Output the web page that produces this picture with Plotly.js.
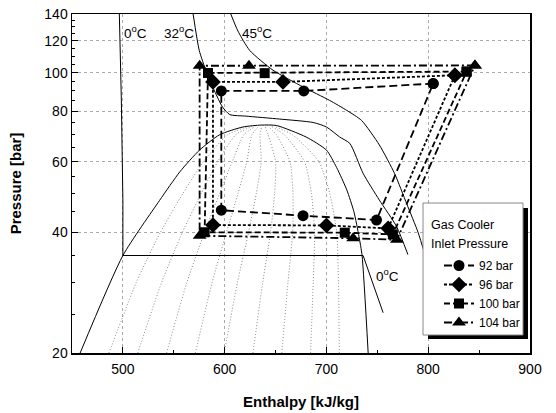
<!DOCTYPE html>
<html><head><meta charset="utf-8">
<script src="https://cdn.plot.ly/plotly-3.0.1.min.js"></script>
<style>html,body{margin:0;padding:0;background:#fff}#chart{width:556px;height:413px}</style>
</head><body><div id="chart"></div>
<script>
// ---- Saturation dome (enthalpy kJ/kg, pressure bar) ----
const domeH = [458, 500, 536, 556, 575, 595, 618, 636, 651, 680, 700, 710, 720, 727, 732, 735, 741];
const domeP = [20, 35, 48, 56.6, 64, 70, 73.2, 74, 73.8, 69.1, 64.1, 58, 51, 45, 39, 35, 20];

// ---- Constant-quality lines (x = 0.1 ... 0.9) ----
const qualP = [20, 30, 40, 50, 60, 70, 73.5];
const qual01 = [486.3, 513.2, 536.9, 559.0, 579.2, 603.0, 624.1];
const qual02 = [514.6, 538.1, 558.5, 577.0, 593.3, 610.9, 627.2];
const qual03 = [542.9, 562.9, 580.2, 595.1, 607.5, 618.9, 630.3];
const qual04 = [571.2, 587.7, 601.8, 613.1, 621.7, 626.8, 633.4];
const qual05 = [599.5, 612.6, 623.5, 631.1, 635.9, 634.8, 636.5];
const qual06 = [627.8, 637.4, 645.1, 649.1, 650.0, 642.7, 639.6];
const qual07 = [656.1, 662.2, 666.8, 667.1, 664.2, 650.7, 642.7];
const qual08 = [684.4, 687.0, 688.4, 685.2, 678.4, 658.6, 645.8];
const qual09 = [712.7, 711.8, 710.1, 703.2, 692.5, 666.6, 648.9];

// ---- Isotherms ----
const iso0H = [496.5, 498.5, 500, 500, 736, 745.5, 755.7];
const iso0P = [140, 85, 48, 35, 35, 30, 25.2];
const iso32H = [569, 575, 582, 590, 598, 605, 621, 654, 687, 700, 713, 723, 736, 752, 769, 780];
const iso32P = [140, 113.6, 100.5, 90, 82, 78.6, 77.9, 76.6, 75.1, 73.2, 69.1, 66.6, 56.1, 48.1, 41.3, 35.2];
const iso45H = [606, 613, 624.6, 647.5, 677, 703, 720, 734.5, 752, 767, 779, 790, 797];
const iso45P = [140, 127, 113.6, 101.4, 92.1, 85.3, 80.5, 76, 66, 56, 47, 40, 35];

// ---- Cycles (order: GC inlet, GC mid, GC outlet, evap inlet, evap mid, evap outlet, GC inlet) ----
const seriesNames = ['92 bar', '96 bar', '100 bar', '104 bar'];
const cyc92H = [804.9, 677.7, 596.7, 596.7, 677, 749.2, 804.9];
const cyc92P = [93.9, 90, 90, 45.4, 44.0, 42.9, 93.9];
const cyc96H = [826.2, 657.3, 588.5, 588.5, 700, 760.6, 826.2];
const cyc96P = [98.5, 94.8, 94.8, 41.7, 41.6, 40.9, 98.5];
const cyc100H = [837.7, 639.3, 583.6, 580.3, 718, 765.3, 837.7];
const cyc100P = [100.6, 99.7, 99.8, 40.0, 39.9, 39.5, 100.6];
const cyc104H = [845.9, 623.9, 575.4, 575.4, 726.2, 769.2, 845.9];
const cyc104P = [104.2, 104, 104, 39.2, 38.65, 38.3, 104.2];

const yTicks = [20, 40, 60, 80, 100, 120, 140];
const yMinor = [25, 30, 35, 45, 50, 55, 65, 70, 75, 85, 90, 95, 105, 110, 115, 125, 130, 135];
const xTicks = [500, 600, 700, 800, 900];
const xMinor = [550, 650, 750, 850];

const FONT = 'Arial, "Liberation Sans", sans-serif';
const traces = [];
const solid = (h, p) => ({x: h, y: p, mode: 'lines', type: 'scatter', showlegend: false,
  hoverinfo: 'skip', line: {color: '#000', width: 1, shape: 'spline', smoothing: 0.6}});
traces.push(solid(domeH, domeP));
[qual01, qual02, qual03, qual04, qual05, qual06, qual07, qual08, qual09].forEach(q => {
  traces.push({x: q, y: qualP, mode: 'lines', type: 'scatter', showlegend: false, hoverinfo: 'skip',
    line: {color: '#666', width: 0.8, dash: '1px,2px', shape: 'spline', smoothing: 0.6}});
});
traces.push(Object.assign(solid(iso0H, iso0P), {line: {color: '#000', width: 1}}));
traces.push(solid(iso32H, iso32P));
traces.push(solid(iso45H, iso45P));

const cycH = [cyc92H, cyc96H, cyc100H, cyc104H];
const cycP = [cyc92P, cyc96P, cyc100P, cyc104P];
const symbols = ['circle', 'diamond', 'square', 'triangle-up'];
const dashes = ['8px,4px', '3px,2px', '6px,3px', '8px,3px,2px,3px'];
const sizes = [11, 12, 10, 12];
for (let i = 0; i < 4; i++) {
  traces.push({x: cycH[i], y: cycP[i], name: seriesNames[i], mode: 'lines+markers', type: 'scatter',
    line: {color: '#000', width: 1.8, dash: dashes[i]},
    marker: {symbol: symbols[i], size: sizes[i], color: '#000'}});
}

const L = 72, R = 26, T = 14, B = 60, W = 556, H = 413;
const pw = W - L - R, ph = H - T - B;
const px = v => (v - L) / pw, py = v => (H - B - v) / ph;

const layout = {
  width: W, height: H, margin: {l: L, r: R, t: T, b: B},
  paper_bgcolor: '#fff', plot_bgcolor: '#fff',
  font: {family: FONT, color: '#000', size: 14},
  showlegend: true, hovermode: false,
  xaxis: {range: [450, 900], tickvals: xTicks, ticktext: xTicks.map(String),
    ticks: 'inside', ticklen: 6, tickwidth: 1, tickcolor: '#000', ticklabelstandoff: 3,
    minor: {tickvals: xMinor, ticks: 'inside', ticklen: 3, tickcolor: '#000', showgrid: false},
    showline: true, linecolor: '#000', linewidth: 1.5, mirror: true, zeroline: false,
    showgrid: true, gridcolor: '#aaa', griddash: 'dot', gridwidth: 1,
    tickfont: {size: 14, family: FONT},
    title: {text: '<b>Enthalpy [kJ/kg]</b>', font: {size: 15, family: FONT}, standoff: 20}},
  yaxis: {type: 'log', range: [Math.log10(20), Math.log10(140)], tickvals: yTicks, ticktext: yTicks.map(String),
    ticks: 'inside', ticklen: 6, tickwidth: 1, tickcolor: '#000',
    minor: {tickvals: yMinor, ticks: 'inside', ticklen: 3, tickcolor: '#000', showgrid: false},
    showline: true, linecolor: '#000', linewidth: 1.5, mirror: true, zeroline: false,
    showgrid: true, gridcolor: '#aaa', griddash: 'dot', gridwidth: 1,
    tickfont: {size: 14, family: FONT},
    title: {text: '<b>Pressure [bar]</b>', font: {size: 15, family: FONT}, standoff: 19}},
  legend: {x: px(439), y: py(251), xanchor: 'left', yanchor: 'top',
    bgcolor: 'rgba(0,0,0,0)', borderwidth: 0,
    font: {size: 12, family: FONT}, tracegroupgap: 0, itemwidth: 30},
  shapes: [
    {type: 'rect', xref: 'paper', yref: 'paper', x0: px(428), x1: px(528), y0: py(339), y1: py(208),
      fillcolor: '#000', line: {width: 0}, layer: 'above'},
    {type: 'rect', xref: 'paper', yref: 'paper', x0: px(423), x1: px(523), y0: py(335), y1: py(203),
      fillcolor: '#fff', line: {width: 1, color: '#888'}, layer: 'above'}
  ],
  annotations: [
    {text: 'Gas Cooler', xref: 'paper', yref: 'paper', x: px(429), y: py(225), xanchor: 'left', yanchor: 'middle',
      showarrow: false, font: {size: 12.5, family: FONT}},
    {text: 'Inlet Pressure', xref: 'paper', yref: 'paper', x: px(429), y: py(244), xanchor: 'left', yanchor: 'middle',
      showarrow: false, font: {size: 12.5, family: FONT}},
    {text: '0<sup>o</sup>C', x: 499, y: Math.log10(126), xanchor: 'left', showarrow: false, font: {size: 13.5, family: FONT}},
    {text: '32<sup>o</sup>C', x: 538, y: Math.log10(126), xanchor: 'left', showarrow: false, font: {size: 13.5, family: FONT}},
    {text: '45<sup>o</sup>C', x: 615, y: Math.log10(126), xanchor: 'left', showarrow: false, font: {size: 13.5, family: FONT}},
    {text: '0<sup>o</sup>C', x: 746.5, y: Math.log10(31.3), xanchor: 'left', showarrow: false, font: {size: 13.5, family: FONT}}
  ]
};
Plotly.newPlot('chart', traces, layout, {displayModeBar: false, staticPlot: true});
</script></body></html>
